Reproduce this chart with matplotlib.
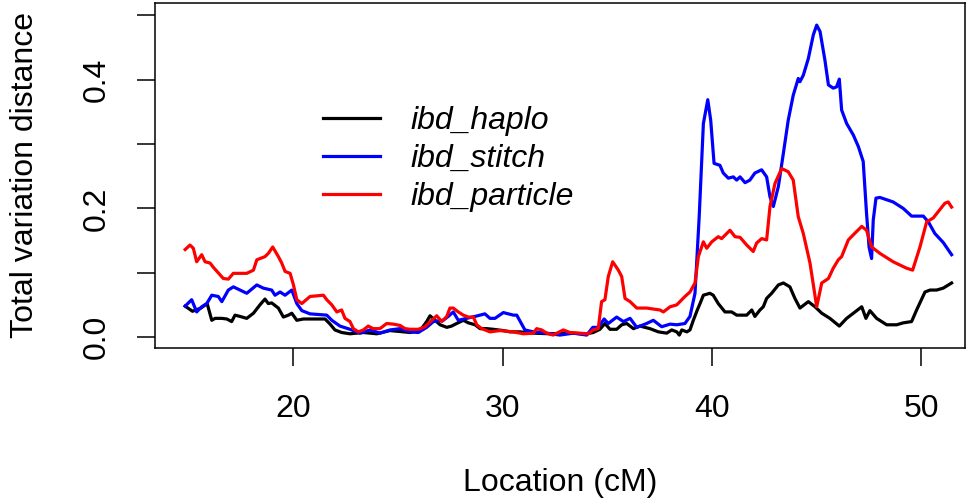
import matplotlib
matplotlib.use('Agg')
import matplotlib.pyplot as plt

plt.rcParams['font.family'] = ['Liberation Sans', 'DejaVu Sans']

# ibd_haplo (black)
haplo_x = [14.85, 15.20, 15.60, 15.90, 16.12, 16.28, 16.60, 16.84, 17.07, 17.23, 17.47, 17.79,
           18.11, 18.42, 18.66, 18.82, 18.98, 19.30, 19.54, 19.78, 19.94, 20.18, 20.49, 21.53,
           21.77, 22.00, 22.32, 22.72, 23.36, 24.00, 24.63, 25.27, 25.59, 26.07, 26.38, 26.54,
           26.78, 27.02, 27.34, 27.57, 27.81, 28.13, 28.37, 28.69, 28.93, 29.25, 29.56, 30.04,
           30.36, 30.83, 31.47, 32.27, 33.06, 34.02, 34.33, 34.65, 34.89, 35.13, 35.45, 35.69,
           35.93, 36.25, 36.56, 37.04, 37.44, 37.84, 38.08, 38.32, 38.44, 38.56, 38.80, 38.95,
           39.11, 39.30, 39.43, 39.59, 39.90, 40.06, 40.30, 40.62, 40.94, 41.18, 41.66, 41.90,
           42.05, 42.29, 42.45, 42.61, 42.85, 43.17, 43.41, 43.72, 43.96, 44.20, 44.60, 44.92,
           45.24, 45.63, 46.08, 46.43, 46.83, 47.15, 47.35, 47.54, 47.86, 48.34, 48.82, 49.13,
           49.53, 49.77, 50.17, 50.41, 50.72, 51.04, 51.44]
haplo_y = [0.048, 0.040, 0.045, 0.052, 0.026, 0.029, 0.029, 0.028, 0.024, 0.034, 0.032, 0.029,
           0.037, 0.050, 0.059, 0.052, 0.053, 0.045, 0.031, 0.034, 0.037, 0.026, 0.028, 0.028,
           0.020, 0.011, 0.007, 0.005, 0.007, 0.005, 0.010, 0.008, 0.007, 0.010, 0.024, 0.033,
           0.026, 0.019, 0.015, 0.017, 0.021, 0.026, 0.022, 0.019, 0.013, 0.013, 0.012, 0.010,
           0.008, 0.008, 0.006, 0.005, 0.006, 0.005, 0.007, 0.012, 0.021, 0.012, 0.012, 0.019,
           0.021, 0.013, 0.017, 0.013, 0.008, 0.006, 0.011, 0.008, 0.003, 0.011, 0.008, 0.011,
           0.026, 0.042, 0.052, 0.065, 0.068, 0.065, 0.052, 0.039, 0.039, 0.034, 0.034, 0.042,
           0.032, 0.042, 0.047, 0.060, 0.068, 0.081, 0.084, 0.078, 0.060, 0.045, 0.055, 0.047,
           0.037, 0.029, 0.017, 0.029, 0.039, 0.047, 0.029, 0.041, 0.029, 0.019, 0.019, 0.022,
           0.024, 0.042, 0.070, 0.073, 0.073, 0.076, 0.084]

# ibd_stitch (blue)
stitch_x = [14.85, 15.16, 15.40, 15.64, 15.88, 16.12, 16.43, 16.60, 16.91, 17.15, 17.79, 18.27,
            18.58, 18.98, 19.14, 19.38, 19.62, 19.94, 20.18, 20.42, 20.81, 21.61, 21.85, 22.24,
            22.72, 23.20, 23.68, 24.15, 24.63, 25.11, 25.59, 25.98, 26.38, 26.70, 27.17, 27.41,
            27.65, 27.89, 28.29, 28.69, 29.16, 29.40, 29.64, 30.04, 30.52, 30.68, 31.07, 31.47,
            32.11, 32.74, 33.38, 34.02, 34.31, 34.57, 34.85, 35.05, 35.45, 35.77, 36.09, 36.41,
            36.88, 37.20, 37.60, 38.00, 38.32, 38.71, 38.95, 39.19, 39.39, 39.59, 39.80, 39.94,
            40.10, 40.38, 40.54, 40.78, 41.02, 41.18, 41.34, 41.58, 41.81, 42.05, 42.37, 42.61,
            42.77, 42.93, 43.17, 43.41, 43.64, 43.88, 44.12, 44.20, 44.36, 44.60, 44.84, 45.00,
            45.16, 45.39, 45.56, 45.79, 45.95, 46.08, 46.19, 46.43, 46.75, 46.99, 47.22, 47.38,
            47.50, 47.62, 47.70, 47.83, 48.02, 48.65, 49.13, 49.53, 50.09, 50.33, 50.64, 51.04,
            51.44]
stitch_y = [0.048, 0.058, 0.039, 0.047, 0.052, 0.065, 0.063, 0.055, 0.073, 0.078, 0.068, 0.081,
            0.076, 0.073, 0.065, 0.070, 0.065, 0.073, 0.052, 0.041, 0.036, 0.034, 0.026, 0.017,
            0.012, 0.006, 0.011, 0.006, 0.011, 0.013, 0.008, 0.007, 0.015, 0.024, 0.026, 0.032,
            0.039, 0.026, 0.029, 0.032, 0.036, 0.029, 0.029, 0.038, 0.034, 0.034, 0.011, 0.008,
            0.006, 0.003, 0.006, 0.003, 0.015, 0.015, 0.028, 0.021, 0.031, 0.024, 0.029, 0.015,
            0.021, 0.026, 0.016, 0.020, 0.019, 0.021, 0.032, 0.068, 0.187, 0.332, 0.369, 0.337,
            0.270, 0.267, 0.255, 0.247, 0.249, 0.244, 0.249, 0.240, 0.244, 0.255, 0.260, 0.249,
            0.218, 0.203, 0.234, 0.286, 0.337, 0.376, 0.402, 0.397, 0.407, 0.433, 0.470, 0.485,
            0.475, 0.431, 0.392, 0.387, 0.389, 0.401, 0.353, 0.332, 0.314, 0.296, 0.273, 0.192,
            0.140, 0.122, 0.182, 0.216, 0.217, 0.210, 0.200, 0.188, 0.188, 0.179, 0.161, 0.147,
            0.128]

# ibd_particle (red)
particle_x = [14.85, 15.08, 15.24, 15.40, 15.64, 15.80, 16.04, 16.18, 16.67, 16.91, 17.15, 17.79,
              18.11, 18.27, 18.66, 18.82, 19.03, 19.30, 19.46, 19.62, 19.86, 20.02, 20.18, 20.42,
              20.81, 21.45, 21.61, 21.85, 22.09, 22.32, 22.48, 22.72, 22.88, 23.12, 23.36, 23.59,
              23.83, 24.15, 24.47, 24.79, 25.11, 25.35, 25.59, 25.98, 26.30, 26.62, 26.86, 27.10,
              27.34, 27.49, 27.65, 27.89, 28.13, 28.37, 28.61, 28.77, 29.01, 29.40, 29.88, 30.52,
              30.99, 31.47, 31.63, 31.87, 32.11, 32.42, 32.66, 32.90, 33.22, 33.70, 34.10, 34.33,
              34.57, 34.73, 34.89, 35.05, 35.26, 35.53, 35.69, 35.85, 36.09, 36.41, 36.88, 37.52,
              37.68, 38.00, 38.32, 38.47, 38.71, 38.95, 39.19, 39.35, 39.59, 39.75, 39.99, 40.30,
              40.46, 40.86, 41.10, 41.34, 41.66, 41.97, 42.13, 42.37, 42.61, 42.77, 43.01, 43.33,
              43.64, 43.88, 44.12, 44.36, 44.68, 45.00, 45.24, 45.56, 45.79, 46.03, 46.19, 46.51,
              46.75, 47.15, 47.38, 47.62, 48.02, 48.65, 49.29, 49.58, 49.93, 50.25, 50.56, 50.88,
              51.12, 51.28, 51.44]
particle_y = [0.136, 0.143, 0.138, 0.117, 0.128, 0.117, 0.115, 0.109, 0.091, 0.090, 0.099, 0.099,
              0.104, 0.120, 0.125, 0.130, 0.140, 0.125, 0.115, 0.102, 0.099, 0.081, 0.058, 0.052,
              0.063, 0.065, 0.058, 0.050, 0.039, 0.042, 0.029, 0.024, 0.013, 0.008, 0.011, 0.017,
              0.013, 0.013, 0.021, 0.020, 0.018, 0.013, 0.012, 0.012, 0.016, 0.026, 0.033, 0.024,
              0.032, 0.045, 0.045, 0.039, 0.034, 0.031, 0.031, 0.019, 0.013, 0.008, 0.010, 0.008,
              0.005, 0.006, 0.013, 0.011, 0.006, 0.003, 0.007, 0.011, 0.007, 0.006, 0.005, 0.011,
              0.013, 0.055, 0.058, 0.094, 0.117, 0.104, 0.094, 0.060, 0.055, 0.045, 0.045, 0.042,
              0.039, 0.047, 0.050, 0.055, 0.063, 0.070, 0.084, 0.125, 0.148, 0.138, 0.148, 0.156,
              0.153, 0.166, 0.156, 0.155, 0.143, 0.133, 0.146, 0.153, 0.151, 0.203, 0.239, 0.262,
              0.257, 0.244, 0.187, 0.161, 0.115, 0.047, 0.084, 0.091, 0.107, 0.120, 0.125, 0.151,
              0.159, 0.172, 0.166, 0.140, 0.130, 0.117, 0.107, 0.104, 0.140, 0.179, 0.185, 0.198,
              0.208, 0.210, 0.202]

x_ticks = [20, 30, 40, 50]
y_ticks = [0.0, 0.1, 0.2, 0.3, 0.4, 0.5]
y_tick_labels = ['0.0', '', '0.2', '', '0.4', '']

fig = plt.figure(figsize=(9.74, 5.04), dpi=100)
ax = fig.add_axes([155 / 974, 156 / 504, 810 / 974, 345 / 504])

lw = 2.3
ax.plot(haplo_x, haplo_y, color='black', lw=lw, label='ibd_haplo')
ax.plot(stitch_x, stitch_y, color='blue', lw=lw, label='ibd_stitch')
ax.plot(particle_x, particle_y, color='red', lw=lw, label='ibd_particle')

ax.set_xlim(13.41, 52.08)
ax.set_ylim(-0.0171, 0.5194)

ax.set_xticks(x_ticks)
ax.set_xticklabels([str(t) for t in x_ticks])
ax.set_yticks(y_ticks)
ax.set_yticklabels(y_tick_labels, rotation=90, va='center')

ax.tick_params(axis='both', direction='out', length=13, width=1.1, labelsize=23)
ax.tick_params(axis='x', pad=20)
ax.tick_params(axis='y', pad=18)
for sp in ax.spines.values():
    sp.set_linewidth(1.1)

ax.set_xlabel('Location (cM)', fontsize=23)
ax.xaxis.set_label_coords(0.5, -0.391)
ax.xaxis.label.set_va('center')
ax.set_ylabel('Total variation distance', fontsize=23)
ax.yaxis.set_label_coords(-0.16, 0.5)
ax.yaxis.label.set_va('center')

leg = ax.legend(loc='upper left', bbox_to_anchor=(307 / 974, 1 - 90 / 504),
                bbox_transform=fig.transFigure, frameon=False, borderpad=0,
                handlelength=1.8, handletextpad=0.95, labelspacing=0.25,
                prop={'size': 23, 'style': 'italic'})

plt.savefig('out.png', dpi=100)
